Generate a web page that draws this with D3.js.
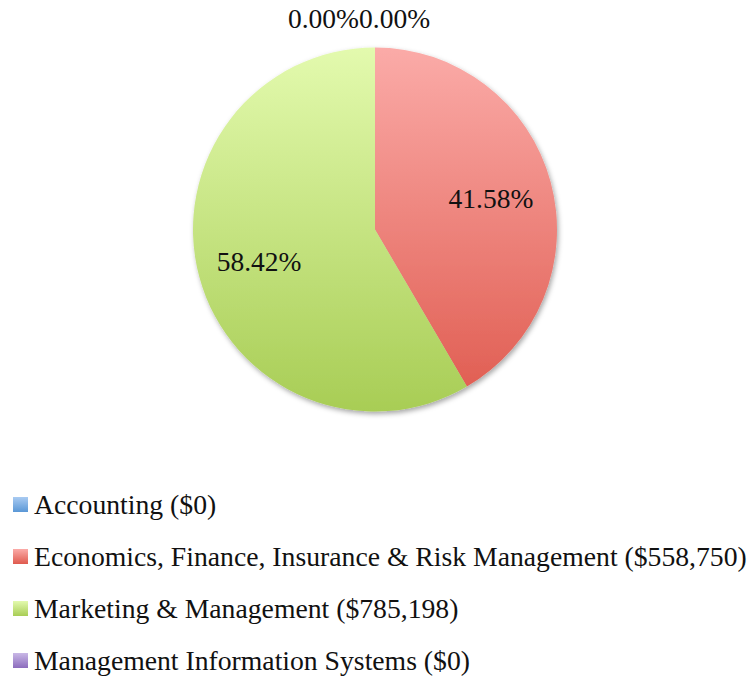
<!DOCTYPE html>
<html>
<head>
<meta charset="utf-8">
<script src="https://cdn.jsdelivr.net/npm/d3@7"></script>
<style>
  body { margin: 0; background: #fff; }
  svg text { font-family: 'Liberation Serif', 'DejaVu Serif', serif; fill: #111; }
</style>
</head>
<body>
<div id="chart"></div>
<script>
const categories = [
  'Accounting',
  'Economics, Finance, Insurance & Risk Management',
  'Marketing & Management',
  'Management Information Systems'
]
const amounts = [0, 558750, 785198, 0]
const topColors = ['#a9cbf2', '#fbaba8', '#e3faae', '#c9b8e6']
const bottomColors = ['#5a97d6', '#df5a4e', '#a8cd55', '#8c6cbd']

const width = 751
const height = 681
const cx = 375
const cy = 229.5
const radius = 182

const svg = d3
  .select('#chart')
  .append('svg')
  .attr('width', width)
  .attr('height', height)

const defs = svg.append('defs')

// gradients, one per category (pie in group space, legend in box space)
categories.forEach((c, i) => {
  const g = defs
    .append('linearGradient')
    .attr('id', 'grad' + i)
    .attr('gradientUnits', 'userSpaceOnUse')
    .attr('x1', 0)
    .attr('y1', -radius)
    .attr('x2', 0)
    .attr('y2', radius)
  g.append('stop').attr('offset', '0%').attr('stop-color', topColors[i])
  g.append('stop').attr('offset', '100%').attr('stop-color', bottomColors[i])

  const lg = defs
    .append('linearGradient')
    .attr('id', 'lgrad' + i)
    .attr('x1', 0)
    .attr('y1', 0)
    .attr('x2', 0)
    .attr('y2', 1)
  lg.append('stop').attr('offset', '0%').attr('stop-color', topColors[i])
  lg.append('stop').attr('offset', '100%').attr('stop-color', bottomColors[i])
})

const shadow = defs
  .append('filter')
  .attr('id', 'shadow')
  .attr('x', '-10%')
  .attr('y', '-10%')
  .attr('width', '130%')
  .attr('height', '130%')
shadow
  .append('feDropShadow')
  .attr('dx', 1.5)
  .attr('dy', 2.5)
  .attr('stdDeviation', 2.5)
  .attr('flood-color', '#000')
  .attr('flood-opacity', 0.35)

const total = d3.sum(amounts)
const data = categories.map((c, i) => ({ name: c, value: amounts[i], i: i }))

const pie = d3.pie().sort(null).value(d => d.value)
const arcs = pie(data)

const arc = d3.arc().innerRadius(0).outerRadius(radius)
const labelArc = d3.arc().innerRadius(radius * 0.66).outerRadius(radius * 0.66)

const g = svg.append('g').attr('transform', `translate(${cx},${cy})`)

g.append('g')
  .attr('filter', 'url(#shadow)')
  .selectAll('path')
  .data(arcs.filter(d => d.value > 0))
  .enter()
  .append('path')
  .attr('d', arc)
  .attr('fill', d => `url(#grad${d.data.i})`)

const pct = d3.format('.2%')

// labels for non-zero slices
g.selectAll('.pctLabel')
  .data(arcs.filter(d => d.value > 0))
  .enter()
  .append('text')
  .attr('class', 'pctLabel')
  .attr('x', d => labelArc.centroid(d)[0])
  .attr('y', d => labelArc.centroid(d)[1])
  .attr('dy', '0.35em')
  .attr('text-anchor', 'middle')
  .attr('font-size', 27.5)
  .text(d => pct(d.value / total))

// zero slices sit at the top, labels pushed outside and side by side
const zero = arcs.filter(d => d.value === 0)
g.selectAll('.zeroLabel')
  .data(zero)
  .enter()
  .append('text')
  .attr('class', 'zeroLabel')
  .attr('x', -16)
  .attr('y', -radius - 20)
  .attr('text-anchor', (d, k) => (k === 0 ? 'end' : 'start'))
  .attr('font-size', 27.5)
  .text(d => pct(d.value / total))

// legend
const fmt = d3.format('$,')
const legend = svg
  .append('g')
  .selectAll('g')
  .data(data)
  .enter()
  .append('g')
  .attr('transform', (d, i) => `translate(13,${497 + i * 52})`)

legend
  .append('rect')
  .attr('width', 15)
  .attr('height', 15)
  .attr('fill', d => `url(#lgrad${d.i})`)

legend
  .append('text')
  .attr('x', 21)
  .attr('y', 7.5)
  .attr('dy', '0.35em')
  .attr('font-size', 27.7)
  .text(d => `${d.name} (${fmt(d.value)})`)
</script>
</body>
</html>
